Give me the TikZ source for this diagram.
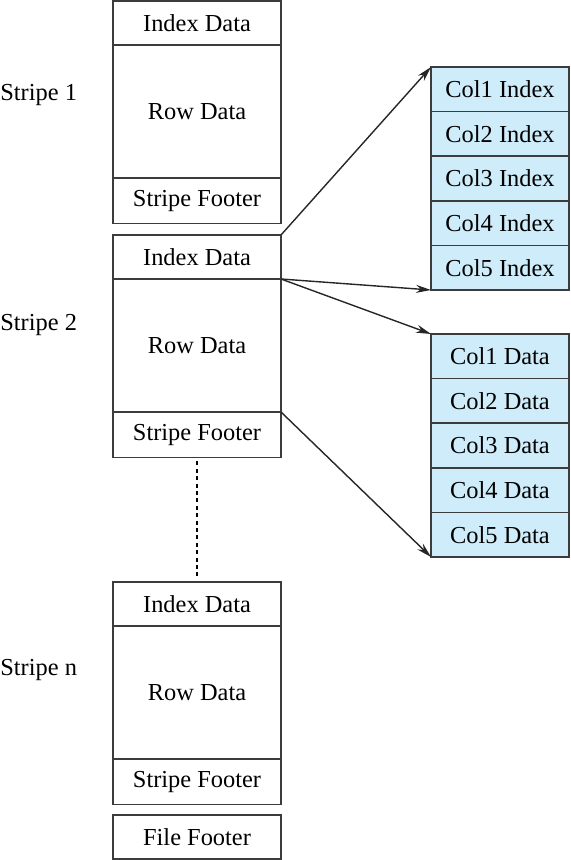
\documentclass[tikz,border=0pt]{standalone}
\usepackage{fontspec}
\setmainfont{Liberation Serif}
\usetikzlibrary{positioning,arrows.meta}

\definecolor{colfill}{RGB}{206,236,249}
\definecolor{boxline}{RGB}{60,60,60}

\begin{document}
\begin{tikzpicture}[x=0.5pt,y=-0.5pt,font=\fontsize{12.2}{14}\selectfont,
    seg/.style={draw=boxline,line width=0.8pt,minimum width=84pt,inner sep=0pt,outer sep=0pt},
    idx/.style={seg,minimum height=22pt},
    rowd/.style={seg,minimum height=66.5pt},
    foot/.style={seg,minimum height=22.7pt},
    col/.style={seg,fill=colfill,minimum width=69pt,minimum height=22.3pt},
    link/.style={->,>={Stealth[length=7.5pt,width=4pt]},line width=0.7pt,black!85}]
        \useasboundingbox (0,0) rectangle (570,860);
        % stripe 1
        \node[idx,anchor=north west] (idx1) at (113,1) {Index Data};
        \node[rowd] (row1) [below=0pt of idx1] {Row Data};
        \node[foot] (foot1) [below=0pt of row1] {Stripe Footer};
        % stripe 2
        \node[idx,anchor=north west] (idx2) at (113,235) {Index Data};
        \node[rowd] (row2) [below=0pt of idx2] {Row Data};
        \node[foot] (foot2) [below=0pt of row2] {Stripe Footer};
        % stripe n
        \node[idx,anchor=north west] (idxn) at (113,582) {Index Data};
        \node[rowd] (rown) [below=0pt of idxn] {Row Data};
        \node[foot] (footn) [below=0pt of rown] {Stripe Footer};
        \node[idx,anchor=north west] (filefoot) at (113,815) {File Footer};
        % labels
        \node[anchor=west,inner sep=0pt] (lab1) at (0,95) {Stripe 1};
        \node[anchor=west,inner sep=0pt] (lab2) at (0,325) {Stripe 2};
        \node[anchor=west,inner sep=0pt] (labn) at (0,670) {Stripe n};
        % column index
        \node[col,anchor=north west] (ci1) at (431,67) {Col1 Index};
        \node[col] (ci2) [below=0pt of ci1] {Col2 Index};
        \node[col] (ci3) [below=0pt of ci2] {Col3 Index};
        \node[col] (ci4) [below=0pt of ci3] {Col4 Index};
        \node[col] (ci5) [below=0pt of ci4] {Col5 Index};
        % column data
        \node[col,anchor=north west] (cd1) at (431,334) {Col1 Data};
        \node[col] (cd2) [below=0pt of cd1] {Col2 Data};
        \node[col] (cd3) [below=0pt of cd2] {Col3 Data};
        \node[col] (cd4) [below=0pt of cd3] {Col4 Data};
        \node[col] (cd5) [below=0pt of cd4] {Col5 Data};
        % connectors
        \draw[line width=1.4pt,dash pattern=on 2pt off 1.7pt,shorten <=2pt,shorten >=2pt]
            (foot2.south) -- (idxn.north);
        \draw[link] (idx2.north east) -- (ci1.north west);
        \draw[link] (idx2.south east) -- (ci5.south west);
        \draw[link] (idx2.south east) -- (cd1.north west);
        \draw[link] (foot2.north east) -- (cd5.south west);
    \end{tikzpicture}
\end{document}
